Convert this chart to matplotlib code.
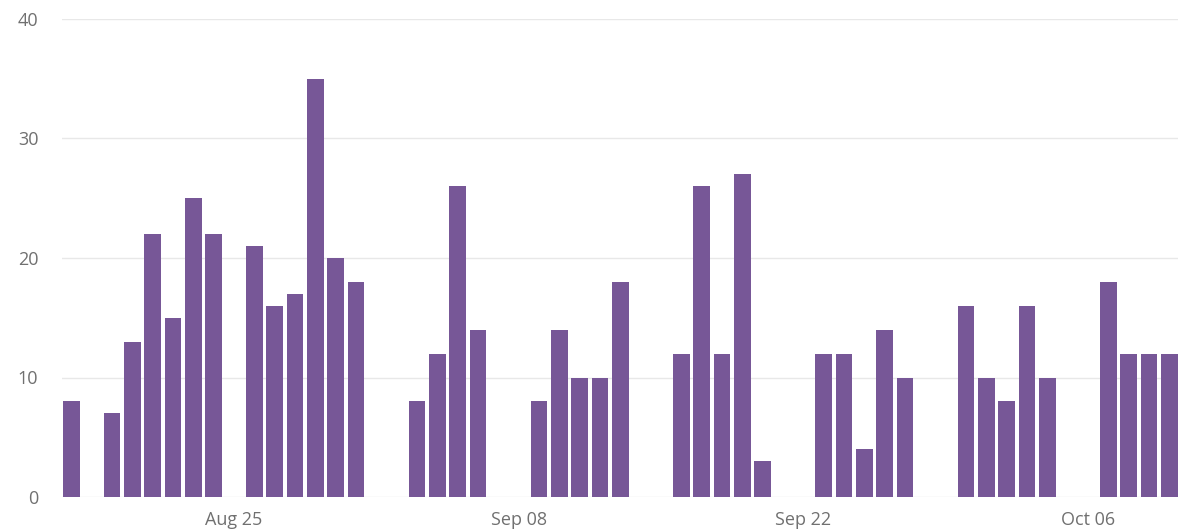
import matplotlib
matplotlib.use("Agg")
import matplotlib.pyplot as plt
import matplotlib.dates as mdates
import numpy as np
import pandas as pd

start_date = "2024-08-17"
end_date = "2024-10-10"
counts = [8, 0, 7, 13, 22, 15, 25, 22, 0, 21, 16, 17, 35, 20, 18,
          0, 0, 8, 12, 26, 14, 0, 0, 8, 14, 10, 10, 18,
          0, 0, 12, 26, 12, 27, 3, 0, 0, 12, 12, 4, 14, 10,
          0, 0, 16, 10, 8, 16, 10, 0, 0, 18, 12, 12, 12]
tick_dates = ["2024-08-25", "2024-09-08", "2024-09-22", "2024-10-06"]
tick_labels = ["Aug 25", "Sep 08", "Sep 22", "Oct 06"]
y_ticks = [0, 10, 20, 30, 40]

dates = pd.date_range(start_date, end_date, freq="D")
x = mdates.date2num(dates)

plt.rcParams['font.family'] = ['Open Sans', 'DejaVu Sans']
fig = plt.figure(figsize=(11.87, 5.31), dpi=100)
ax = fig.add_axes([62/1187, 1-497/531, (1178-62)/1187, (497-19)/531])

bw = 0.82
ax.bar(x, counts, width=bw, color="#775797", zorder=3)
ax.set_xlim(x[0] - bw/2 - 0.05, x[-1] + bw/2 + 0.02)
ax.set_ylim(0, 40)
ax.set_yticks(y_ticks)
ax.set_xticks(mdates.date2num(pd.to_datetime(tick_dates)))
ax.set_xticklabels(tick_labels)
ax.grid(axis="y", color="#e8e8e8", linewidth=1, zorder=0)
for s in ax.spines.values():
    s.set_visible(False)
ax.tick_params(axis="both", length=0, labelsize=13, labelcolor="#707070")
ax.tick_params(axis="y", pad=17)
ax.tick_params(axis="x", pad=10)
for lbl in ax.get_xticklabels():
    lbl.set_x(lbl.get_position()[0])
fig.savefig("out.png", dpi=100)
